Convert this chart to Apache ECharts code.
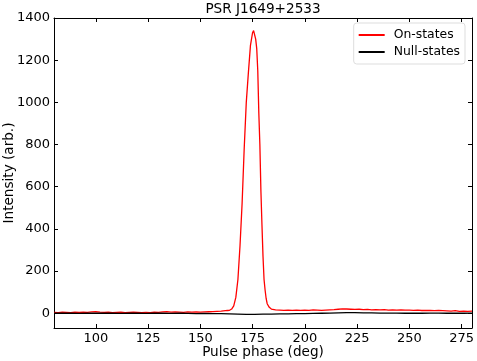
<!DOCTYPE html>
<html>
<head>
<meta charset="utf-8">
<script src="https://cdn.jsdelivr.net/npm/echarts@6/dist/echarts.min.js"></script>
<style>
  html, body { margin: 0; padding: 0; background: #fff; }
  #chart { width: 477px; height: 361px; }
</style>
</head>
<body>
<div id="chart"></div>
<script>
// values
const onPhase = [
  80, 82, 84, 86, 88, 90, 92, 94, 96, 98, 100, 102, 104, 106, 108, 110, 112, 114, 116, 118,
  120, 122, 124, 126, 128, 130, 132, 134, 136, 138, 140, 142, 144, 146, 148, 150, 152, 154, 156, 158,
  160, 161, 162, 163, 164, 165, 166, 167, 168, 169, 170, 171, 172, 173, 174, 175, 175.5, 176, 176.5,
  177, 177.5, 178, 178.5, 179, 179.5, 180, 180.5, 181, 181.5, 182, 183, 184, 186, 188, 190,
  192, 194, 196, 198, 200, 202, 204, 206, 208, 210, 212, 214, 216, 218, 220, 222, 224, 226, 228, 230,
  232, 234, 236, 238, 240, 242, 244, 246, 248, 250, 252, 254, 256, 258, 260, 262, 264, 266, 268, 270,
  272, 274, 276, 278, 280
];
const onStates = [
  4, 3, 5, 4, 3, 5, 4, 5, 4, 6, 7, 5, 4, 5, 3, 4, 5, 3, 4, 5,
  4, 3, 4, 3, 5, 4, 6, 8, 5, 6, 5, 4, 6, 5, 6, 5, 6, 7, 8, 9,
  10, 11, 12, 13, 14, 20, 35, 75, 160, 320, 520, 780, 1000, 1140, 1270, 1330, 1340, 1332, 1300,
  1255, 1150, 950, 800, 580, 420, 270, 160, 110, 70, 45, 28, 20, 16, 15, 14,
  15, 14, 15, 14, 15, 14, 16, 15, 14, 15, 16, 17, 19, 21, 20, 19, 18, 19, 17, 18,
  16, 17, 16, 17, 15, 16, 15, 16, 15, 15, 14, 15, 13, 14, 13, 12, 13, 12, 11, 10,
  12, 9, 10, 9, 10
];
const nullPhase = [
  80, 84, 88, 92, 96, 100, 104, 108, 112, 116, 120, 124, 128, 132, 136, 140, 144, 148, 152, 156,
  160, 164, 168, 172, 176, 180, 184, 188, 192, 196, 200, 204, 208, 212, 216, 220, 224, 228, 232, 236,
  240, 244, 248, 252, 256, 260, 264, 268, 272, 276, 280
];
const nullStates = [
  0, 1, 0, -1, 0, 1, 0, 0, -1, 0, 0, -1, 0, 0, -1, 0, -1, -2, -1, -2,
  -2, -3, -4, -5, -5, -4, -4, -3, -3, -2, -2, -1, 0, 1, 2, 3, 3, 2, 2, 1,
  1, 1, 0, 1, 0, 1, 1, 0, 1, 0, 1
];
const xTicks = [100, 125, 150, 175, 200, 225, 250, 275];
const yTicks = [0, 200, 400, 600, 800, 1000, 1200, 1400];

const font = 'DejaVu Sans';
const chart = echarts.init(document.getElementById('chart'));

const axisBase = {
  axisLine: { show: true, onZero: false, lineStyle: { color: '#000', width: 1 } },
  splitLine: { show: false },
  nameMoveOverlap: false,
};

chart.setOption({
  animation: false,
  title: {
    text: 'PSR J1649+2533',
    left: 263, top: 2, padding: 0, textAlign: 'center',
    textStyle: { fontFamily: font, fontSize: 13.6, fontWeight: 'normal', color: '#000' }
  },
  legend: {
    orient: 'vertical',
    right: 12, top: 23,
    padding: [6, 5, 6, 5],
    itemGap: 5,
    itemWidth: 26, itemHeight: 2,
    borderColor: '#ddd', borderWidth: 1, borderRadius: 3,
    textStyle: { fontFamily: font, fontSize: 12.4, color: '#000', padding: [0, 0, 0, 4] },
    data: [
      { name: 'On-states', icon: 'rect' },
      { name: 'Null-states', icon: 'rect' }
    ]
  },
  grid: { left: 54, right: 5, top: 18, bottom: 33, outerBoundsMode: 'none', containLabel: false },
  xAxis: [{
    ...axisBase,
    type: 'value', min: 80, max: 280,
    name: 'Pulse phase (deg)', nameLocation: 'middle', nameGap: 17,
    nameTextStyle: { fontFamily: font, fontSize: 13.6, color: '#000' },
    axisTick: { inside: true, length: 4, customValues: xTicks, lineStyle: { color: '#000' } },
    axisLabel: { customValues: xTicks, fontFamily: font, fontSize: 13, color: '#000', margin: 4 }
  }, {
    ...axisBase,
    type: 'value', min: 80, max: 280, position: 'top',
    axisTick: { inside: true, length: 4, customValues: xTicks, lineStyle: { color: '#000' } },
    axisLabel: { show: false }
  }],
  yAxis: [{
    ...axisBase,
    type: 'value', min: -70, max: 1400,
    name: 'Intensity (arb.)', nameLocation: 'middle', nameGap: 38,
    nameTextStyle: { fontFamily: font, fontSize: 13.6, color: '#000' },
    axisTick: { inside: true, length: 4, customValues: yTicks, lineStyle: { color: '#000' } },
    axisLabel: { customValues: yTicks, formatter: v => String(v), fontFamily: font, fontSize: 13, color: '#000', margin: 4 }
  }, {
    ...axisBase,
    type: 'value', min: -70, max: 1400, position: 'right',
    axisTick: { inside: true, length: 4, customValues: yTicks, lineStyle: { color: '#000' } },
    axisLabel: { show: false }
  }],
  series: [{
    name: 'On-states',
    type: 'line',
    showSymbol: false,
    color: '#ff0000',
    lineStyle: { width: 1.3 },
    data: onPhase.map((p, i) => [p, onStates[i]])
  }, {
    name: 'Null-states',
    type: 'line',
    showSymbol: false,
    color: '#000000',
    lineStyle: { width: 1.3 },
    data: nullPhase.map((p, i) => [p, nullStates[i]])
  }]
});
</script>
</body>
</html>
